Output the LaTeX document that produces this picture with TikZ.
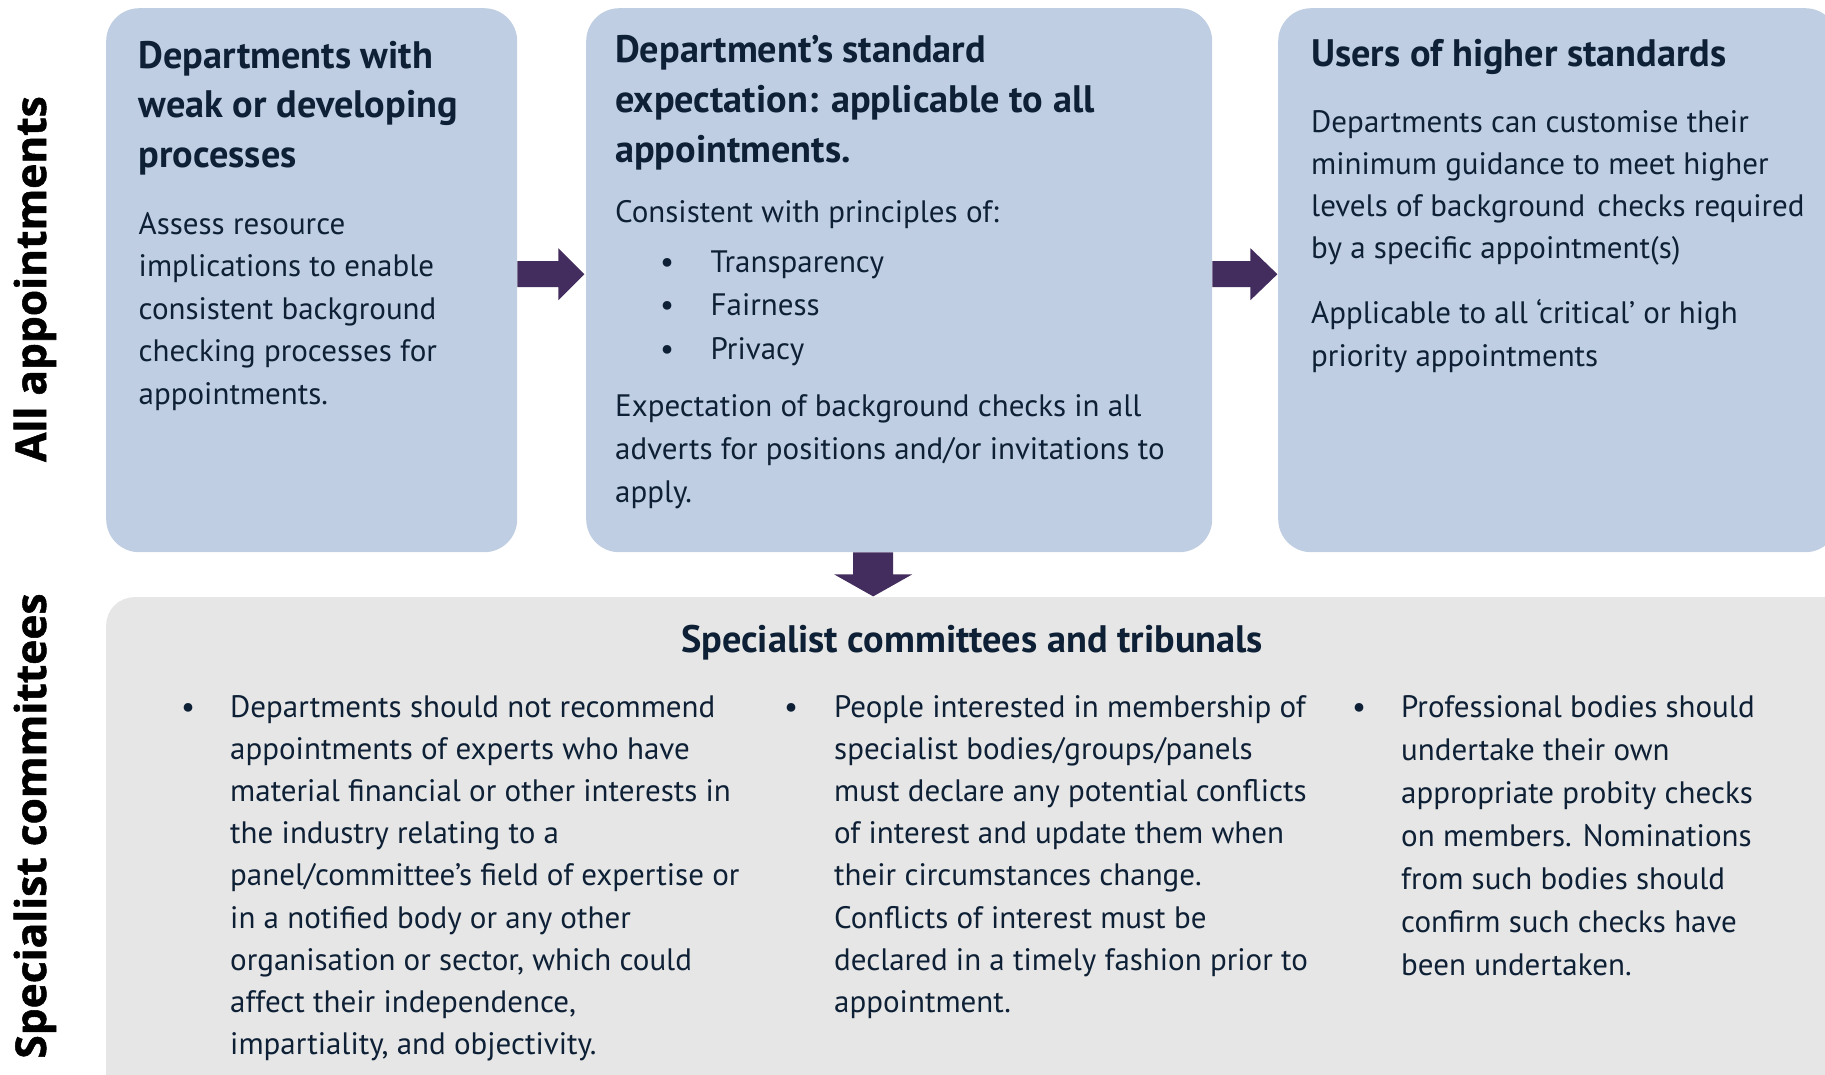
\documentclass[tikz,border=0pt]{standalone}
\usepackage{fontspec}
\setmainfont{PT Sans}
\newfontfamily\labelfont{Open Sans}[BoldFeatures={FakeBold=1.2}]
\usetikzlibrary{calc}
\definecolor{boxblue}{HTML}{BFCEE2}
\definecolor{boxgrey}{HTML}{E6E6E6}
\definecolor{arrowc}{HTML}{432D5E}
\definecolor{txt}{HTML}{0E2035}
\newcommand{\bodyfnt}{\fontsize{31}{42.5}\selectfont}
\newcommand{\headfnt}{\fontsize{38.3}{49.5}\selectfont\bfseries}
\newcommand{\bul}[1]{\makebox[0pt][c]{\textbullet}\hspace{#1}}
\tikzset{
  panel/.style={fill=boxblue, rounded corners=33pt, draw=none, inner sep=0pt, anchor=north west},
  bottompanel/.style={fill=boxgrey, rounded corners=28pt, draw=none, inner sep=0pt, anchor=north west},
  txtblock/.style={anchor=base west, inner sep=0pt, text=txt},
  sidelabel/.style={rotate=90, anchor=base, inner sep=0pt, text=black, font=\labelfont\bfseries\fontsize{42.5}{45}\selectfont},
  flowarrow/.style={fill=arrowc, draw=none}
}
\begin{document}
\begin{tikzpicture}[x=1pt,y=-1pt]
\useasboundingbox (0,0) rectangle (1825,1074);
\begin{scope}
\clip (0,0) rectangle (1825,1074);
% panels
\node[panel, minimum width=411pt, minimum height=544pt] (b1) at (106,8) {};
\node[panel, minimum width=626pt, minimum height=544pt] (b2) at (586,8) {};
\node[panel, minimum width=560pt, minimum height=544pt] (b3) at (1278,8) {};
\node[bottompanel, minimum width=1749pt, minimum height=520pt] (b4) at (106,597) {};
\end{scope}
% arrows
\fill[flowarrow] ($(b1.east)+(0,-19)$) -- ($(b1.east)+(41,-19)$) -- ($(b1.east)+(41,-32)$)
  -- ($(b1.east)+(67,-6)$) -- ($(b1.east)+(41,20)$) -- ($(b1.east)+(41,7)$) -- ($(b1.east)+(0,7)$) -- cycle;
\fill[flowarrow] ($(b2.east)+(0,-19)$) -- ($(b2.east)+(38,-19)$) -- ($(b2.east)+(38,-32)$)
  -- ($(b2.east)+(65,-6)$) -- ($(b2.east)+(38,20)$) -- ($(b2.east)+(38,7)$) -- ($(b2.east)+(0,7)$) -- cycle;
\fill[flowarrow] ($(b2.south)+(-46,0)$) -- ($(b2.south)+(-6,0)$) -- ($(b2.south)+(-6,22)$)
  -- ($(b2.south)+(13,22)$) -- ($(b2.south)+(-26,44)$) -- ($(b2.south)+(-65,22)$) -- ($(b2.south)+(-46,22)$) -- cycle;
% side labels
\node[sidelabel] (lab1) at (46,279) {All appointments};
\node[sidelabel] (lab2) at (46,826) {Specialist committees};
% box 1
\node[txtblock] (h1) at (138.5,68) {\parbox[t]{380pt}{\headfnt Departments with\\weak or developing\\processes}};
\node[txtblock] (t1) at (138.5,234) {\parbox[t]{380pt}{\bodyfnt Assess resource\\implications to enable\\consistent background\\checking processes for\\appointments.}};
% box 2
\node[txtblock] (h2) at (615,62.5) {\parbox[t]{580pt}{\fontsize{38.3}{50}\selectfont\bfseries Department’s standard\\expectation: applicable to all\\appointments.}};
\node[txtblock] (t2a) at (615,222) {\parbox[t]{580pt}{\bodyfnt Consistent with principles of:}};
\node[txtblock] (t2b) at (667,272) {\parbox[t]{520pt}{\fontsize{31}{43.5}\selectfont\bul{43.5pt}Transparency\\\bul{43.5pt}Fairness\\\bul{43.5pt}Privacy}};
\node[txtblock] (t2c) at (615,416) {\parbox[t]{580pt}{\fontsize{31}{43}\selectfont Expectation of background checks in all\\adverts for positions and/or invitations to\\apply.}};
% box 3
\node[txtblock] (h3) at (1311,66) {\parbox[t]{520pt}{\headfnt Users of higher standards}};
\node[txtblock] (t3a) at (1311,132) {\parbox[t]{520pt}{\fontsize{31}{42.3}\selectfont Departments can customise their\\minimum guidance to meet higher\\levels of background\hspace{4pt} checks required\\by a specific appointment(s)}};
\node[txtblock] (t3b) at (1311,323) {\parbox[t]{520pt}{\fontsize{31}{43}\selectfont Applicable to all ‘critical’ or high\\priority appointments}};
% bottom panel
\node[anchor=base, inner sep=0pt, text=txt, font=\headfnt] (h4) at (972,652) {Specialist committees and tribunals};
\node[txtblock] (c1) at (188,717) {\parbox[t]{560pt}{\fontsize{31}{42.2}\selectfont\hangindent=42pt\hangafter=1 \bul{42pt}Departments should not recommend\\appointments of experts who have\\material financial or other interests in\\the industry relating to a\\panel/committee’s field of expertise or\\in a notified body or any other\\organisation or sector, which could\\affect their independence,\\impartiality, and objectivity.}};
\node[txtblock] (c2) at (791,717) {\parbox[t]{540pt}{\fontsize{31}{42.2}\selectfont\hangindent=43pt\hangafter=1 \bul{43pt}People interested in membership of\\specialist bodies/groups/panels\\must declare any potential conflicts\\of interest and update them when\\their circumstances change.\\Conflicts of interest must be\\declared in a timely fashion prior to\\appointment.}};
\node[txtblock] (c3) at (1359,717) {\parbox[t]{460pt}{\fontsize{31}{43}\selectfont\hangindent=42pt\hangafter=1 \bul{42pt}Professional bodies should\\undertake their own\\appropriate probity checks\\on members. Nominations\\from such bodies should\\confirm such checks have\\been undertaken.}};
\end{tikzpicture}
\end{document}
